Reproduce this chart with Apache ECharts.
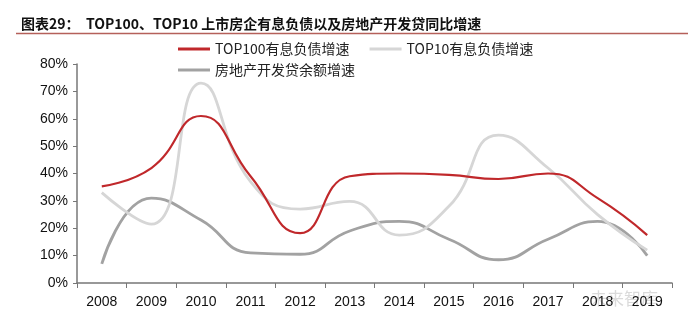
<!DOCTYPE html>
<html><head><meta charset="utf-8">
<script src="https://cdn.jsdelivr.net/npm/echarts@6/dist/echarts.min.js"></script>
<style>html,body{margin:0;padding:0;background:#fff}#c{width:700px;height:328px}</style>
</head><body><div id="c"></div>
<script>
var categories = ['2008','2009','2010','2011','2012','2013','2014','2015','2016','2017','2018','2019'];
var top100 = [35.3, 42, 61, 39, 18.2, 39, 40, 39.5, 38, 40, 31, 17.5];
var top10 = [33, 21.5, 73, 37, 27, 29.8, 17.5, 28, 54, 42, 25, 12];
var devLoan = [7, 31, 23, 11, 10.5, 19, 22.5, 16, 8.5, 16, 22.5, 10];
var yTicks = [0, 10, 20, 30, 40, 50, 60, 70, 80];
var names = ['TOP100有息负债增速', 'TOP10有息负债增速', '房地产开发贷余额增速'];

var chart = echarts.init(document.getElementById('c'));
var font = 'Liberation Sans, Arial, sans-serif';
var cjk = '"Noto Sans CJK SC", sans-serif';
chart.setOption({
  animation: false,
  backgroundColor: '#fff',
  title: {
    text: '图表29：  TOP100、TOP10 上市房企有息负债以及房地产开发贷同比增速',
    left: 16, top: 12,
    textStyle: {fontSize: 14, fontWeight: 'bold', color: '#111', fontFamily: cjk}
  },
  graphic: [
    {type: 'line', shape: {x1: 16, y1: 33.5, x2: 688, y2: 33.5}, style: {stroke: '#b5605a', lineWidth: 1.5}},
    {type: 'text', left: 590, top: 290, style: {text: '未来智库', fill: 'rgba(150,150,150,0.35)', font: '17px "Noto Sans CJK SC"'}}
  ],
  legend: [
    {data: [names[0], names[1]], left: 173, top: 37, itemWidth: 32, itemHeight: 3, itemGap: 20, icon: 'rect',
     textStyle: {fontSize: 14, color: '#222', fontFamily: cjk}},
    {data: [names[2]], left: 173, top: 58, itemWidth: 32, itemHeight: 3, icon: 'rect',
     textStyle: {fontSize: 14, color: '#222', fontFamily: cjk}}
  ],
  grid: {left: 77, right: 28, top: 64, bottom: 45},
  xAxis: {
    type: 'category', data: categories, boundaryGap: true,
    axisLine: {lineStyle: {color: '#777', width: 1.5}},
    axisTick: {show: true, inside: false, length: 5, lineStyle: {color: '#777'}},
    axisLabel: {fontSize: 14, color: '#111', margin: 12, fontFamily: font}
  },
  yAxis: {
    type: 'value', min: yTicks[0], max: yTicks[yTicks.length - 1], interval: 10,
    axisLine: {show: true, lineStyle: {color: '#777', width: 1.5}},
    axisTick: {show: true, length: 4, lineStyle: {color: '#777'}},
    splitLine: {show: false},
    axisLabel: {fontSize: 14, color: '#111', margin: 9, fontFamily: font, formatter: '{value}%'}
  },
  series: [
    {name: names[0], type: 'line', data: top100, smooth: 0.5, symbol: 'none',
     lineStyle: {color: '#c0282b', width: 2.2}, itemStyle: {color: '#c0282b'}, z: 3},
    {name: names[1], type: 'line', data: top10, smooth: 0.5, symbol: 'none',
     lineStyle: {color: '#d6d6d6', width: 2.8}, itemStyle: {color: '#d6d6d6'}, z: 2},
    {name: names[2], type: 'line', data: devLoan, smooth: 0.5, symbol: 'none',
     lineStyle: {color: '#a2a2a2', width: 2.8}, itemStyle: {color: '#a2a2a2'}, z: 1}
  ]
});
</script></body></html>
